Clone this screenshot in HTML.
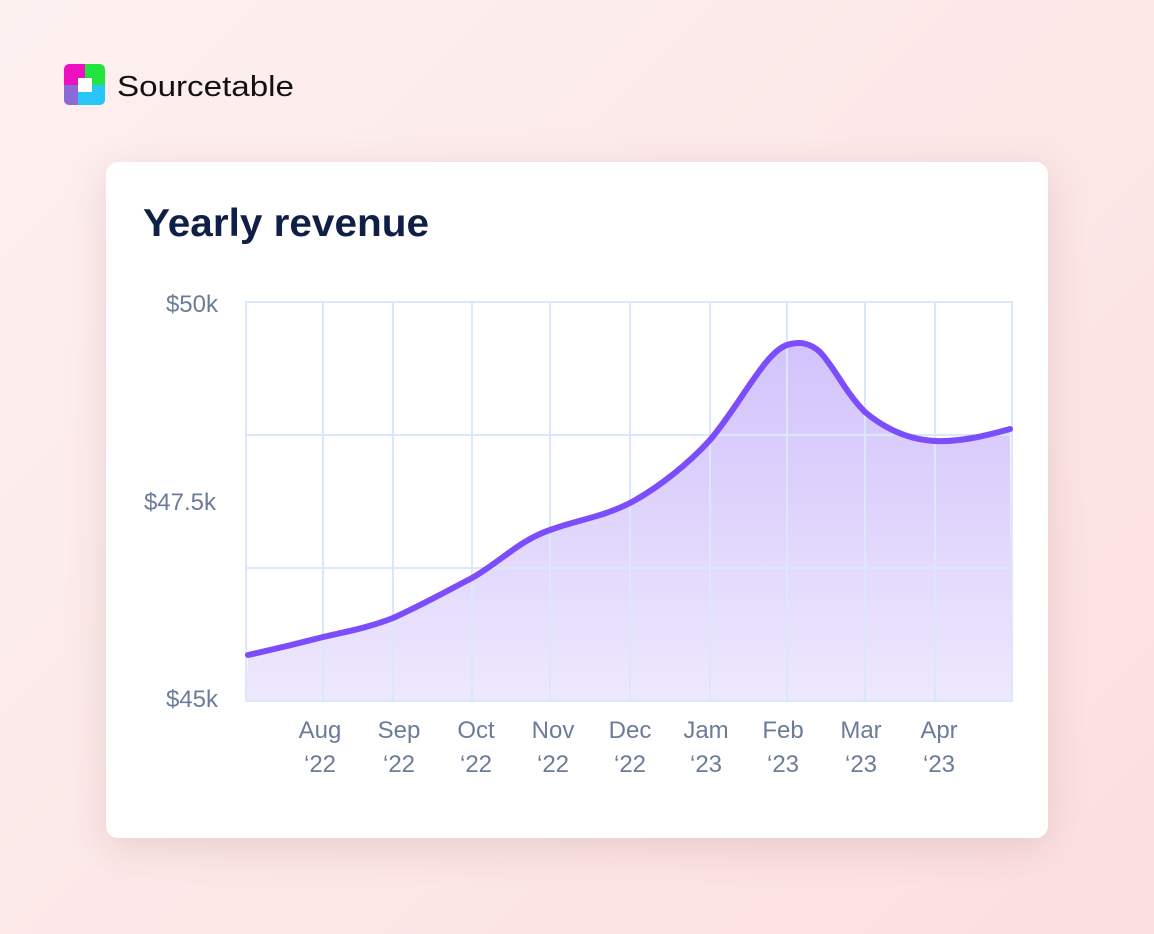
<!DOCTYPE html>
<html><head><style>
body{margin:0;width:1154px;height:934px;overflow:hidden;background:linear-gradient(135deg,#fdf1f0 0%,#fce6e6 60%,#fcdfe0 100%);font-family:"Liberation Sans",sans-serif;position:relative}
.card{position:absolute;left:106px;top:162px;width:942px;height:676px;background:#fff;border-radius:12px;box-shadow:0 10px 40px rgba(120,60,60,0.15)}
</style></head><body>
<svg width="1154" height="934" style="position:absolute;left:0;top:0">
<defs><clipPath id="lc"><rect x="64" y="64" width="41" height="41" rx="5"/></clipPath></defs>
<g clip-path="url(#lc)">
<rect x="64" y="64" width="21" height="21" fill="#ee10c0"/>
<rect x="85" y="64" width="20" height="21" fill="#22e43e"/>
<rect x="64" y="85" width="14" height="20" fill="#8b6ad8"/>
<rect x="78" y="85" width="27" height="20" fill="#26c6f8"/>
<rect x="78" y="78" width="14" height="14" fill="#fff"/>
</g>
<text x="117" y="96" font-family="Liberation Sans" font-size="29" fill="#111" textLength="177" lengthAdjust="spacingAndGlyphs">Sourcetable</text>
</svg>
<div class="card"></div>
<svg width="1154" height="934" style="position:absolute;left:0;top:0">
<defs><linearGradient id="g" x1="0" y1="0" x2="0" y2="1"><stop offset="0" stop-color="#cbb8fb" stop-opacity="0.85"/><stop offset="1" stop-color="#ece6fd" stop-opacity="0.9"/></linearGradient></defs>
<text x="143" y="236" font-size="39" font-weight="bold" fill="#0f1f45" textLength="286" lengthAdjust="spacingAndGlyphs">Yearly revenue</text>
<path d="M248,655 C280,648 300,643 323,637 C350,631 370,627 393,618 C420,606 445,592 472,578 C500,562 520,540 550,530 C580,519 600,518 630,503 C660,487 690,462 710,440 C740,405 765,352 787,345 C800,341 810,343 820,352 C835,368 845,392 865,412 C890,433 915,440 935,441 C960,442 985,436 1010,429 L1012,701 L246,701 Z" fill="url(#g)"/>
<g stroke="#dbe8fb" stroke-width="2" fill="none">
<rect x="246" y="302" width="766" height="399"/>
<line x1="246" y1="435" x2="1012" y2="435"/><line x1="246" y1="568" x2="1012" y2="568"/>
<line x1="323" y1="302" x2="323" y2="701"/><line x1="393" y1="302" x2="393" y2="701"/><line x1="472" y1="302" x2="472" y2="701"/><line x1="550" y1="302" x2="550" y2="701"/><line x1="630" y1="302" x2="630" y2="701"/><line x1="710" y1="302" x2="710" y2="701"/><line x1="787" y1="302" x2="787" y2="701"/><line x1="865" y1="302" x2="865" y2="701"/><line x1="935" y1="302" x2="935" y2="701"/>
</g>
<path d="M248,655 C280,648 300,643 323,637 C350,631 370,627 393,618 C420,606 445,592 472,578 C500,562 520,540 550,530 C580,519 600,518 630,503 C660,487 690,462 710,440 C740,405 765,352 787,345 C800,341 810,343 820,352 C835,368 845,392 865,412 C890,433 915,440 935,441 C960,442 985,436 1010,429" fill="none" stroke="#7c4dfa" stroke-width="6" stroke-linecap="round"/>
<g font-size="24" fill="#6b7c99" text-anchor="end">
<text x="218" y="312">$50k</text><text x="216" y="510">$47.5k</text><text x="218" y="707">$45k</text>
</g>
<g font-size="24" fill="#6b7c99" text-anchor="middle">
<text x="320" y="738">Aug</text><text x="320" y="772">‘22</text>
<text x="399" y="738">Sep</text><text x="399" y="772">‘22</text>
<text x="476" y="738">Oct</text><text x="476" y="772">‘22</text>
<text x="553" y="738">Nov</text><text x="553" y="772">‘22</text>
<text x="630" y="738">Dec</text><text x="630" y="772">‘22</text>
<text x="706" y="738">Jam</text><text x="706" y="772">‘23</text>
<text x="783" y="738">Feb</text><text x="783" y="772">‘23</text>
<text x="861" y="738">Mar</text><text x="861" y="772">‘23</text>
<text x="939" y="738">Apr</text><text x="939" y="772">‘23</text>
</g>
</svg>
</body></html>
